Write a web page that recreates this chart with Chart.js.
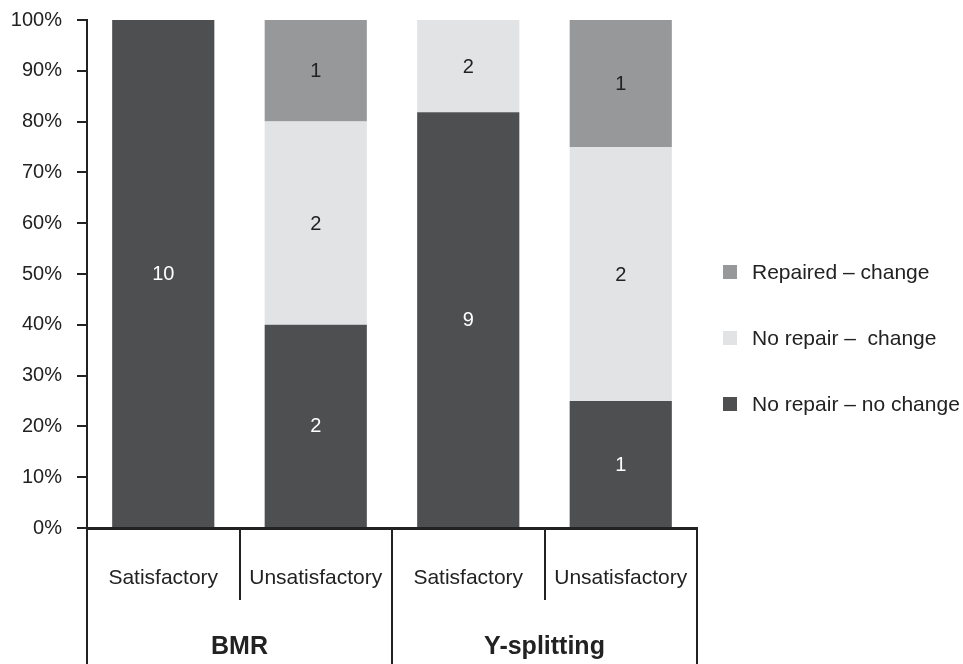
<!DOCTYPE html>
<html>
<head>
<meta charset="utf-8">
<script src="https://cdn.jsdelivr.net/npm/chart.js@4.4.1/dist/chart.umd.min.js"></script>
<style>
  html, body { margin: 0; padding: 0; background: #fff; }
  #wrap { width: 963px; height: 664px; position: relative; }
</style>
</head>
<body>
<div id="wrap"><canvas id="chart"></canvas></div>
<script>
/* ── Data ─────────────────────────────────────────── */
const categories = ['Satisfactory', 'Unsatisfactory', 'Satisfactory', 'Unsatisfactory'];
const groups     = ['BMR', 'Y-splitting'];
const yTicks     = [0, 10, 20, 30, 40, 50, 60, 70, 80, 90, 100];

// counts per bar (bottom to top of the stack)
const noRepairNoChange = [10, 2, 9, 1];
const noRepairChange   = [0, 2, 2, 2];
const repairedChange   = [0, 1, 0, 1];

const seriesLabels = ['No repair \u2013 no change', 'No repair \u2013  change', 'Repaired \u2013 change'];

/* ── Styles ───────────────────────────────────────── */
const DARK  = '#4e4f51';
const LIGHT = '#e2e3e5';
const MID   = '#97989a';
const INK   = '#222222';
const FONT  = '"Liberation Sans", Arial, sans-serif';

const counts = [noRepairNoChange, noRepairChange, repairedChange];
const totals = categories.map((_, i) => counts.reduce((s, arr) => s + arr[i], 0));
const toPct  = arr => arr.map((v, i) => v / totals[i] * 100);

/* ── Plugin: value labels, category boxes, legend ─── */
const decorations = {
  id: 'decorations',
  afterDatasetsDraw(chart) {
    const ctx = chart.ctx;
    ctx.save();
    ctx.font = '20px ' + FONT;
    ctx.textAlign = 'center';
    ctx.textBaseline = 'middle';
    chart.data.datasets.forEach((ds, di) => {
      const meta = chart.getDatasetMeta(di);
      meta.data.forEach((bar, i) => {
        const n = counts[di][i];
        if (!n) return;
        const mid = (bar.y + bar.base) / 2;
        ctx.fillStyle = di === 0 ? '#ffffff' : INK;
        ctx.fillText(String(n), bar.x, mid + 1);
      });
    });
    ctx.restore();
  },
  afterDraw(chart) {
    const ctx = chart.ctx;
    const x = chart.scales.x;
    const area = chart.chartArea;
    const step = (x.right - x.left) / categories.length;
    const bottom = chart.height;
    ctx.save();
    ctx.strokeStyle = INK;
    ctx.lineWidth = 2;
    // separators between categories
    for (let i = 0; i <= categories.length; i++) {
      const px = Math.round(x.left + step * i);
      const full = i % 2 === 0;
      ctx.beginPath();
      ctx.moveTo(px, area.bottom);
      ctx.lineTo(px, full ? bottom : area.bottom + 72);
      ctx.stroke();
    }
    // category labels
    ctx.fillStyle = INK;
    ctx.textAlign = 'center';
    ctx.textBaseline = 'alphabetic';
    ctx.font = '21px ' + FONT;
    categories.forEach((c, i) => {
      ctx.fillText(c, x.getPixelForValue(i), area.bottom + 56);
    });
    ctx.font = 'bold 25px ' + FONT;
    groups.forEach((g, gi) => {
      const cx = x.left + step * (gi * 2 + 1);
      ctx.fillText(g, cx, area.bottom + 126);
    });
    // legend (top entry = top of the stack)
    const legendX = 723, rows = [272, 338, 404];
    ctx.font = '21px ' + FONT;
    ctx.textAlign = 'left';
    ctx.textBaseline = 'middle';
    const order = [2, 1, 0];
    order.forEach((di, r) => {
      const ds = chart.data.datasets[di];
      ctx.fillStyle = ds.backgroundColor;
      ctx.fillRect(legendX, rows[r] - 7, 14, 14);
      ctx.fillStyle = INK;
      ctx.fillText(ds.label, legendX + 29, rows[r] + 1);
    });
    ctx.restore();
  }
};

/* ── Chart ────────────────────────────────────────── */
new Chart(document.getElementById('chart'), {
  type: 'bar',
  data: {
    labels: categories,
    datasets: [
      { label: seriesLabels[0], data: toPct(noRepairNoChange), backgroundColor: DARK },
      { label: seriesLabels[1], data: toPct(noRepairChange),   backgroundColor: LIGHT },
      { label: seriesLabels[2], data: toPct(repairedChange),   backgroundColor: MID }
    ]
  },
  options: {
    responsive: true,
    maintainAspectRatio: false,
    animation: false,
    layout: { padding: { top: 20, left: 10, right: 266, bottom: 136 } },
    datasets: { bar: { categoryPercentage: 1, barPercentage: 0.67, borderWidth: 0 } },
    plugins: { legend: { display: false }, tooltip: { enabled: false } },
    scales: {
      x: {
        stacked: true,
        ticks: { display: false },
        grid: { display: false, drawTicks: false },
        border: { display: true, color: INK, width: 3 },
        afterFit: s => { s.height = 0; }
      },
      y: {
        stacked: true,
        min: 0,
        max: 100,
        afterBuildTicks: s => { s.ticks = yTicks.map(v => ({ value: v })); },
        ticks: {
          callback: v => v + '%',
          color: INK,
          padding: 15,
          font: { family: FONT, size: 20 }
        },
        grid: { drawOnChartArea: false, drawTicks: true, tickLength: 10, color: INK, lineWidth: 2 },
        border: { display: true, color: INK, width: 2 },
        afterFit: s => { s.width = 77; s.paddingTop = 0; s.paddingBottom = 0; }
      }
    }
  },
  plugins: [decorations]
});
</script>
</body>
</html>
